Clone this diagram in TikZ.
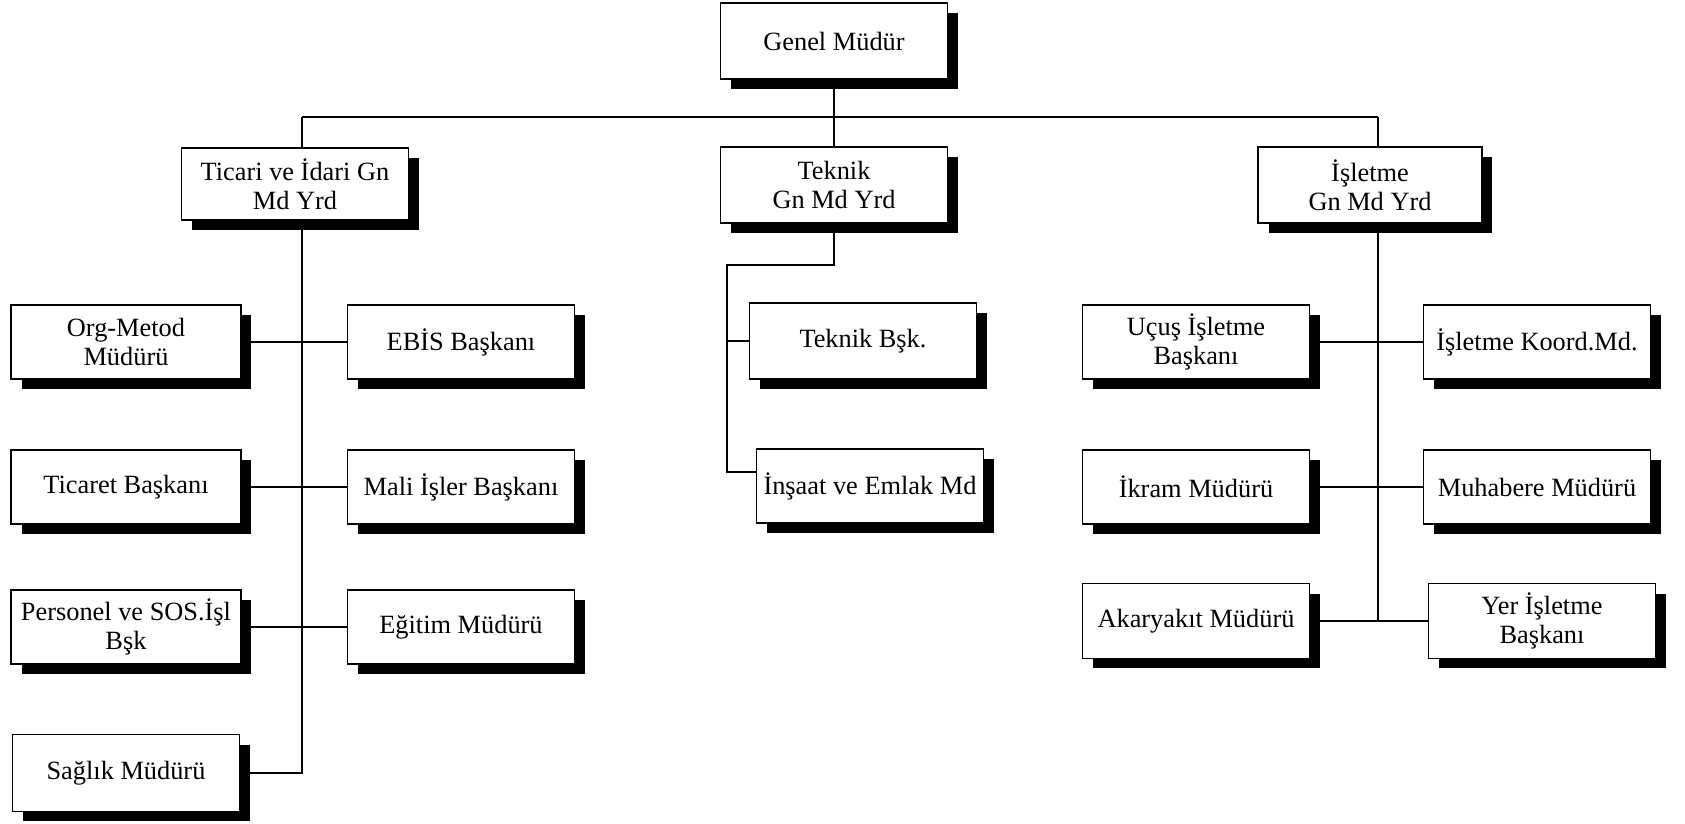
\documentclass[tikz,border=0pt]{standalone}
\usepackage{fontspec}
\setmainfont{Liberation Serif}
\usetikzlibrary{shadows}
\tikzset{
  unit/.style={draw, line width=0.9pt, fill=white, minimum width=4.54cm, minimum height=1.48cm,
    inner xsep=2pt, align=center, font=\fontsize{15}{16.5}\selectfont,
    drop shadow={shadow xshift=0.21cm, shadow yshift=-0.2cm, fill=black, opacity=1}},
  link/.style={line width=1pt}
}

\begin{document}
\begin{tikzpicture}[x=0.02cm, y=-0.02cm]%
\useasboundingbox (0,0) rectangle (1685,824);%
% top level and deputies
\node[unit, minimum height=1.52cm] (genel) at (834,41) {Genel Müdür};%
\node[unit, minimum height=1.44cm] (ticari) at (295,184) {Ticari ve İdari Gn\\Md Yrd};%
\node[unit, minimum height=1.52cm] (teknik) at (834,185) {Teknik\\Gn Md Yrd};%
\node[unit, minimum height=1.52cm, minimum width=4.48cm] (isletme) at (1370,185) {İşletme\\Gn Md Yrd};%
% commercial and administrative branch
\node[unit, minimum width=4.6cm] (orgmetod) at (126,342) {Org-Metod\\Müdürü};%
\node[unit] (ebis) at (461,342) {EBİS Başkanı};%
\node[unit, minimum width=4.6cm] (ticaret) at (126,487) {Ticaret Başkanı};%
\node[unit] (mali) at (461,487) {Mali İşler Başkanı};%
\node[unit, minimum width=4.6cm] (personel) at (126,627) {Personel ve SOS.İşl\\Bşk};%
\node[unit] (egitim) at (461,627) {Eğitim Müdürü};%
\node[unit, minimum height=1.54cm] (saglik) at (126,773) {Sağlık Müdürü};%
% technical branch
\node[unit, minimum height=1.52cm] (teknikbsk) at (863,341) {Teknik Bşk.};%
\node[unit] (insaat) at (870,486) {İnşaat ve Emlak Md};%
% operations branch
\node[unit] (ucus) at (1196,342) {Uçuş İşletme\\Başkanı};%
\node[unit] (koord) at (1537,342) {İşletme Koord.Md.};%
\node[unit] (ikram) at (1196,487) {İkram Müdürü};%
\node[unit] (muhabere) at (1537,487) {Muhabere Müdürü};%
\node[unit, minimum height=1.5cm] (akaryakit) at (1196,621) {Akaryakıt Müdürü};%
\node[unit, minimum height=1.5cm] (yer) at (1542,621) {Yer İşletme\\Başkanı};%
% trunk lines
\coordinate (trunkL) at (302,117);%
\coordinate (trunkR) at (1378,117);%
\coordinate (trunkM) at (727,265);%
\coordinate (insaatin) at ([yshift=0.28cm]insaat.west);%
\draw[link] (genel.south) -- (genel.south |- trunkL);%
\draw[link] (trunkL) -- (trunkR);%
\draw[link] (trunkL) -- (trunkL |- ticari.north);%
\draw[link] (teknik.north |- trunkL) -- (teknik.north);%
\draw[link] (trunkR) -- (trunkR |- isletme.north);%
\draw[link] (trunkL |- ticari.south) -- (trunkL |- saglik.east) -- (saglik.east);%
\draw[link] (orgmetod.east) -- (ebis.west);%
\draw[link] (ticaret.east) -- (mali.west);%
\draw[link] (personel.east) -- (egitim.west);%
\draw[link] (teknik.south) -- (teknik.south |- trunkM) -- (trunkM) -- (trunkM |- insaatin) -- (insaatin);%
\draw[link] (trunkM |- teknikbsk.west) -- (teknikbsk.west);%
\draw[link] (trunkR |- isletme.south) -- (trunkR |- akaryakit.east);%
\draw[link] (ucus.east) -- (koord.west);%
\draw[link] (ikram.east) -- (muhabere.west);%
\draw[link] (akaryakit.east) -- (yer.west);%
\end{tikzpicture}
\end{document}
